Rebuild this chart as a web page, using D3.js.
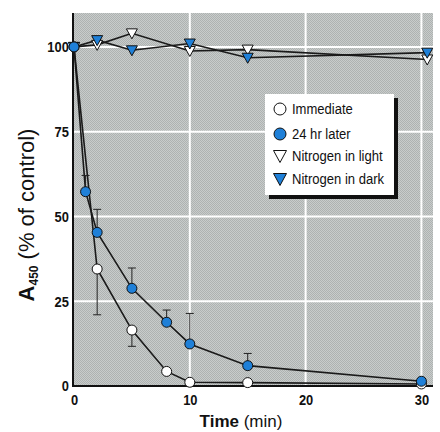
<!DOCTYPE html>
<html>
<head>
<meta charset="utf-8">
<script src="https://cdn.jsdelivr.net/npm/d3@7"></script>
<style>
  html, body { margin: 0; padding: 0; background: #fff; }
  svg { display: block; font-family: "Liberation Sans", Arial, sans-serif; }
</style>
</head>
<body>
<svg id="chart" width="440" height="432"></svg>
<script>
// time points (min)
const timesCurve = [0, 2, 5, 8, 10, 15, 30];
const times24 = [0, 1, 2, 5, 8, 10, 15, 30];
const timesN2 = [0, 2, 5, 10, 15, 30.5];

// A450, % of control
const immediate = [100, 34.5, 16.5, 4.3, 1.1, 1.0, 0.6];
const immediateErr = [0, -13.5, -4.8, 0, 0, 0, 0];
const later24 = [100, 57.3, 45.3, 28.8, 18.8, 12.4, 6.0, 1.4];
const later24Err = [0, 4.8, 6.8, 6.0, 3.6, 9.0, 3.6, 0];
const n2Light = [100, 100.6, 104, 98.8, 99.2, 96.3];
const n2Dark = [100, 102, 99, 101, 96.8, 98.3];

const xTicks = [0, 10, 20, 30];
const yTicks = [0, 25, 50, 75, 100];
const legendLabels = ["Immediate", "24 hr later", "Nitrogen in light", "Nitrogen in dark"];

const blue = "#1f80d8";
const narrow = "scale(0.86,1)";

let svg = d3.select("#chart");

var x = d3.scaleLinear().domain([0, 31]).range([74, 433]),
    y = d3.scaleLinear().domain([0, 110]).range([386, 13]);

// halftone-looking gray background (1px checkerboard)
let defs = svg.append("defs");
let pat = defs.append("pattern")
    .attr("id", "dots")
    .attr("width", 2).attr("height", 2)
    .attr("patternUnits", "userSpaceOnUse");
pat.append("rect").attr("width", 2).attr("height", 2).attr("fill", "#c8cccb");
pat.append("rect").attr("width", 1).attr("height", 1).attr("fill", "#aeb2b1");
pat.append("rect").attr("x", 1).attr("y", 1).attr("width", 1).attr("height", 1).attr("fill", "#aeb2b1");

svg.append("rect")
    .attr("x", x(0)).attr("y", y(110))
    .attr("width", x(31) - x(0)).attr("height", y(0) - y(110))
    .attr("fill", "url(#dots)");

// white grid
svg.append("g").selectAll("line")
    .data(xTicks.filter(d => d > 0))
    .join("line")
    .attr("x1", d => x(d)).attr("x2", d => x(d))
    .attr("y1", y(0)).attr("y2", y(110))
    .attr("stroke", "#fff").attr("stroke-width", 2);
svg.append("g").selectAll("line")
    .data(yTicks.filter(d => d > 0))
    .join("line")
    .attr("x1", x(0)).attr("x2", x(31))
    .attr("y1", d => y(d)).attr("y2", d => y(d))
    .attr("stroke", "#fff").attr("stroke-width", 2);

// axes
let xAxis = svg.append("g")
    .attr("transform", "translate(0," + y(0) + ")")
    .call(d3.axisBottom(x).tickValues(xTicks).tickSize(0).tickPadding(8).tickFormat(d3.format("d")));
let yAxis = svg.append("g")
    .attr("transform", "translate(" + x(0) + ",0)")
    .call(d3.axisLeft(y).tickValues(yTicks).tickSize(0).tickPadding(6).tickFormat(d3.format("d")));
[xAxis, yAxis].forEach(a => {
    a.select(".domain").remove();
    a.selectAll("text")
        .attr("transform", narrow)
        .style("font-family", "'Liberation Sans', Arial, sans-serif")
        .style("font-size", "15px").style("font-weight", "bold").attr("fill", "#111");
});
svg.append("line")
    .attr("x1", x(0) - 1).attr("x2", x(0) - 1).attr("y1", y(110)).attr("y2", y(0) + 1)
    .attr("stroke", "#111").attr("stroke-width", 2);
svg.append("line")
    .attr("x1", x(0) - 2).attr("x2", x(31)).attr("y1", y(0)).attr("y2", y(0))
    .attr("stroke", "#111").attr("stroke-width", 2);

// lines
function series(xs, ys) { return xs.map((t, i) => [t, ys[i]]); }
var line = d3.line()
    .x(d => x(d[0]))
    .y(d => y(d[1]));

let plot = svg.append("g");
[[timesN2, n2Light], [timesN2, n2Dark], [timesCurve, immediate], [times24, later24]].forEach(s => {
    plot.append("path")
        .datum(series(s[0], s[1]))
        .attr("d", line)
        .style("fill", "none")
        .style("stroke", "#1a1a1a")
        .style("stroke-width", "1.6");
});

// error bars
function errorBars(xs, ys, errs) {
    let g = plot.append("g");
    xs.forEach((t, i) => {
        if (!errs[i]) return;
        let yEnd = y(ys[i] + errs[i]);
        g.append("line").attr("x1", x(t)).attr("x2", x(t))
            .attr("y1", y(ys[i])).attr("y2", yEnd)
            .attr("stroke", "#222").attr("stroke-width", 1);
        g.append("line").attr("x1", x(t) - 4).attr("x2", x(t) + 4)
            .attr("y1", yEnd).attr("y2", yEnd)
            .attr("stroke", "#222").attr("stroke-width", 1);
    });
}
errorBars(timesCurve, immediate, immediateErr);
errorBars(times24, later24, later24Err);

// markers
const triPath = "M-5.5,-4.5 L5.5,-4.5 L0,5.5 Z";
function triangles(xs, ys, fill) {
    plot.append("g").selectAll("path")
        .data(series(xs, ys))
        .join("path")
        .attr("d", triPath)
        .attr("transform", d => "translate(" + x(d[0]) + "," + y(d[1]) + ")")
        .attr("fill", fill).attr("stroke", "#111").attr("stroke-width", 1);
}
function circles(xs, ys, fill) {
    plot.append("g").selectAll("circle")
        .data(series(xs, ys))
        .join("circle")
        .attr("cx", d => x(d[0])).attr("cy", d => y(d[1])).attr("r", 5)
        .attr("fill", fill).attr("stroke", "#111").attr("stroke-width", 1);
}
triangles(timesN2, n2Light, "#fff");
triangles(timesN2, n2Dark, blue);
circles(timesCurve, immediate, "#fff");
circles(times24, later24, blue);

// legend
let lg = svg.append("g").attr("transform", "translate(265,94)");
lg.append("rect").attr("x", 4).attr("y", 4).attr("width", 129).attr("height", 101).attr("fill", "#111");
lg.append("rect").attr("width", 129).attr("height", 101).attr("fill", "#fff");
const legendKinds = [["circle", "#fff"], ["circle", blue], ["tri", "#fff"], ["tri", blue]];
const rowY = [15, 40, 62, 85];
legendLabels.forEach((lab, i) => {
    let k = legendKinds[i];
    if (k[0] === "circle") {
        lg.append("circle").attr("cx", 15).attr("cy", rowY[i]).attr("r", 6)
            .attr("fill", k[1]).attr("stroke", "#111").attr("stroke-width", 1);
    } else {
        lg.append("path").attr("d", "M-6.5,-5.5 L6.5,-5.5 L0,6.5 Z")
            .attr("transform", "translate(15," + rowY[i] + ")")
            .attr("fill", k[1]).attr("stroke", "#111").attr("stroke-width", 1);
    }
    lg.append("text")
        .attr("transform", "translate(27," + (rowY[i] + 5) + ") scale(0.9,1)")
        .style("font-size", "14.5px").attr("fill", "#111").text(lab);
});

// axis titles
let xt = svg.append("text")
    .attr("x", 241).attr("y", 427)
    .attr("text-anchor", "middle")
    .style("font-size", "17px").attr("fill", "#111");
xt.append("tspan").style("font-weight", "bold").text("Time");
xt.append("tspan").text(" (min)");

let yt = svg.append("text")
    .attr("transform", "translate(34,215) rotate(-90)")
    .attr("text-anchor", "middle")
    .style("font-size", "22px").attr("fill", "#111");
yt.append("tspan").style("font-weight", "bold").text("A");
yt.append("tspan").style("font-weight", "bold").style("font-size", "12px").attr("dy", 4).text("450");
yt.append("tspan").attr("dy", -4).text("  (% of control)");
</script>
</body>
</html>
